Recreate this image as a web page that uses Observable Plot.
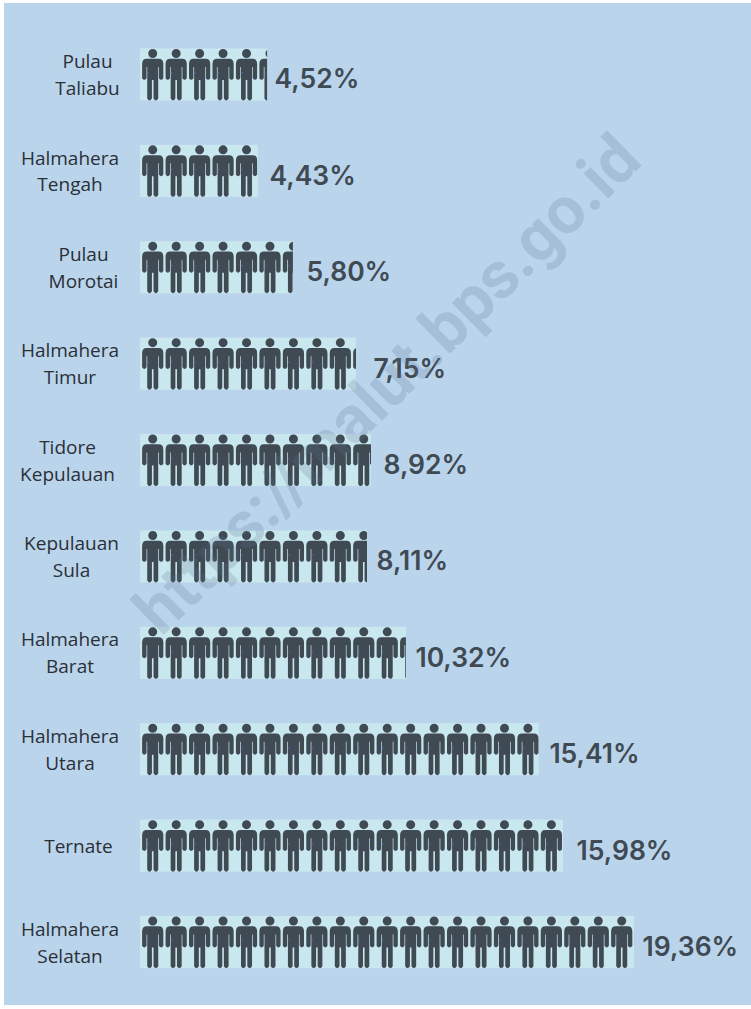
<!DOCTYPE html>
<html>
<head>
<meta charset="utf-8">
<script src="https://cdn.jsdelivr.net/npm/d3@7"></script>
<script src="https://cdn.jsdelivr.net/npm/@observablehq/plot@0.6"></script>
<style>
html,body{margin:0;padding:0;background:#fff;}
#sheet{position:absolute;left:4px;top:3px;width:747px;height:1002px;background:#bad4ec;}
#chart{position:absolute;left:0;top:0;width:751px;height:1009px;}
#chart svg{display:block;background:transparent;}
</style>
</head>
<body>
<div id="sheet"></div>
<div id="chart"></div>
<script>
// Data
const regions = ["Pulau\nTaliabu","Halmahera\nTengah","Pulau\nMorotai","Halmahera\nTimur","Tidore\nKepulauan","Kepulauan\nSula","Halmahera\nBarat","Halmahera\nUtara","Ternate","Halmahera\nSelatan"];
const figures = [5.42,5.03,6.52,9.21,9.85,9.68,11.34,17.01,18.04,21.07];
const shares = ["4,52%","4,43%","5,80%","7,15%","8,92%","8,11%","10,32%","15,41%","15,98%","19,36%"];

// Layout of the labels, which the source placed by hand (px)
const valueGaps = [7,11,13,17,12,9,9,10,13,8];
const labelCentres = [87,69.5,83,69.5,67,71,69.5,69.5,78,69.5];

const pitch = 23.45, originPx = 140;
const rows = regions.map((region,i)=>({region,count:figures[i],share:shares[i],gap:valueGaps[i],centre:labelCentres[i]}));
const people = rows.flatMap(r=>d3.range(Math.ceil(r.count)).map(k=>({region:r.region,pos:k+0.5})));
const trims = rows.filter(r=>!Number.isInteger(r.count)).map(r=>({region:r.region,x1:r.count,x2:Math.ceil(r.count)+0.02}));

const person = {draw(c,size){
  const s=Math.sqrt(size/Math.PI)/10;
  const L=(x,y)=>c.lineTo(x*s,y*s), Q=(a,b,x,y)=>c.quadraticCurveTo(a*s,b*s,x*s,y*s);
  c.moveTo(4.5*s,-21.5*s); c.arc(0,-21.5*s,4.5*s,0,2*Math.PI); c.closePath();
  c.moveTo(-6*s,-16.2*s); L(6,-16.2); Q(10.6,-16.2,10.6,-11); L(10.6,3.2); Q(8.5,6.6,6.2,3.2);
  L(6.2,-8); L(5.5,-8); L(5.5,23.6); Q(3.2,27.4,0.8,23.6); L(0.8,5); L(-0.8,5); L(-0.8,23.6); Q(-3.2,27.4,-5.5,23.6);
  L(-5.5,-8); L(-6.2,-8); L(-6.2,3.2); Q(-8.5,6.6,-10.6,3.2); L(-10.6,-11); Q(-10.6,-16.2,-6,-16.2); c.closePath();
}};

const bg="#bad4ec", ink="#3f4a52";
const chart = Plot.plot({
  width:751,height:1009,margin:0,
  style:{background:"transparent"},
  x:{type:"linear",domain:[-originPx/pitch,(751-originPx)/pitch],range:[0,751],axis:null},
  y:{type:"band",domain:regions,range:[4.1,1012.4],padding:0.46,round:false,axis:null},
  marks:[
    Plot.rect(rows,{x1:0,x2:"count",y:"region",fill:"#c9e7ef"}),
    Plot.dot(people,{x:"pos",y:"region",r:10,dx:0.5,symbol:person,fill:ink,stroke:"none"}),
    Plot.dot(people,{x:"pos",y:"region",r:0.9,dx:-3.9,dy:-2,fill:"#5a5fd0",fillOpacity:0.6}),
    Plot.rect(trims,{x1:"x1",x2:"x2",y:"region",insetTop:-2,insetBottom:-2,fill:bg}),
    Plot.text(rows,{x:d=>(d.centre-originPx)/pitch,y:"region",dy:-2,text:"region",lineHeight:1.42,textAnchor:"middle",fontSize:19,fontFamily:"Open Sans",fill:"#2b3036"}),
    Plot.text(rows,{x:d=>d.count+d.gap/pitch,y:"region",dy:5,text:"share",textAnchor:"start",fontSize:26.5,fontWeight:600,fontFamily:"Inter",fill:ink}),
    Plot.text(["https://malut.bps.go.id"],{text:d=>d,frameAnchor:"middle",dx:12,dy:-120,rotate:-44.5,fontSize:66,fontWeight:700,fontFamily:"Roboto",fill:"#5b7690",fillOpacity:0.22})
  ]
});
document.getElementById("chart").append(chart);
</script>
</body>
</html>
